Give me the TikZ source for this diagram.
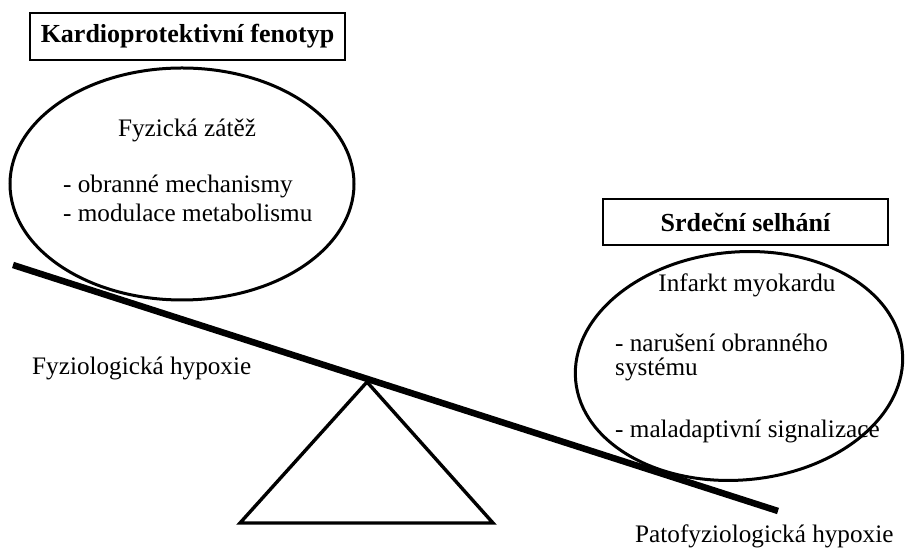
\documentclass[tikz,border=0pt]{standalone}
\usepackage{fontspec}
\setmainfont{Liberation Serif}
\usetikzlibrary{shapes.geometric}
\begin{document}
\begin{tikzpicture}[x=1pt,y=1pt,
  every node/.style={font=\fontsize{25.2}{29}\selectfont},
  titlebox/.style={draw, line width=1.8pt, minimum width=315pt, minimum height=47pt, inner sep=0pt, font=\fontsize{26}{30}\selectfont\bfseries},
  oval/.style={draw, ellipse, line width=3pt, inner sep=0pt},
  txt/.style={anchor=base west, inner sep=0pt},
  ctxt/.style={anchor=base, inner sep=0pt}]
\useasboundingbox (0,0) rectangle (905,553);
% title boxes
\node[titlebox] (kbox) at (187.5,516.5) {Kardioprotektivní fenotyp};
\node[titlebox, minimum width=285pt, minimum height=46pt] (sbox) at (745.5,331) {Srdeční selhání};
% ellipses
\node[oval, minimum width=344pt, minimum height=232pt] (e1) at (182,369) {};
\node[oval, minimum width=328pt, minimum height=228pt, rotate=5] (e2) at (739,187) {};
% beam and fulcrum
\coordinate (bl) at (13,288);
\coordinate (br) at (778,42);
\draw[line width=6.5pt] (bl) -- (br);
\coordinate (apex) at (367,171);
\coordinate (baseL) at (240,30);
\coordinate (baseR) at (493,30);
\draw[line width=3.4pt, line join=miter] (apex) -- (baseL) -- (baseR) -- cycle;
% texts in left ellipse
\node[ctxt] (t1) at (187,416) {Fyzická zátěž};
\node[txt] (t2) at (63,360) {- obranné mechanismy};
\node[txt] (t3) at (63,331) {- modulace metabolismu};
% texts in right ellipse
\node[ctxt] (t4) at (747,261) {Infarkt myokardu};
\node[txt] (t5) at (615,201) {- narušení obranného};
\node[txt] (t6) at (615,177) {systému};
\node[txt] (t7) at (615,115) {- maladaptivní signalizace};
% side labels
\node[txt] (l1) at (32,178) {Fyziologická hypoxie};
\node[txt] (l2) at (635,10) {Patofyziologická hypoxie};
\end{tikzpicture}
\end{document}
